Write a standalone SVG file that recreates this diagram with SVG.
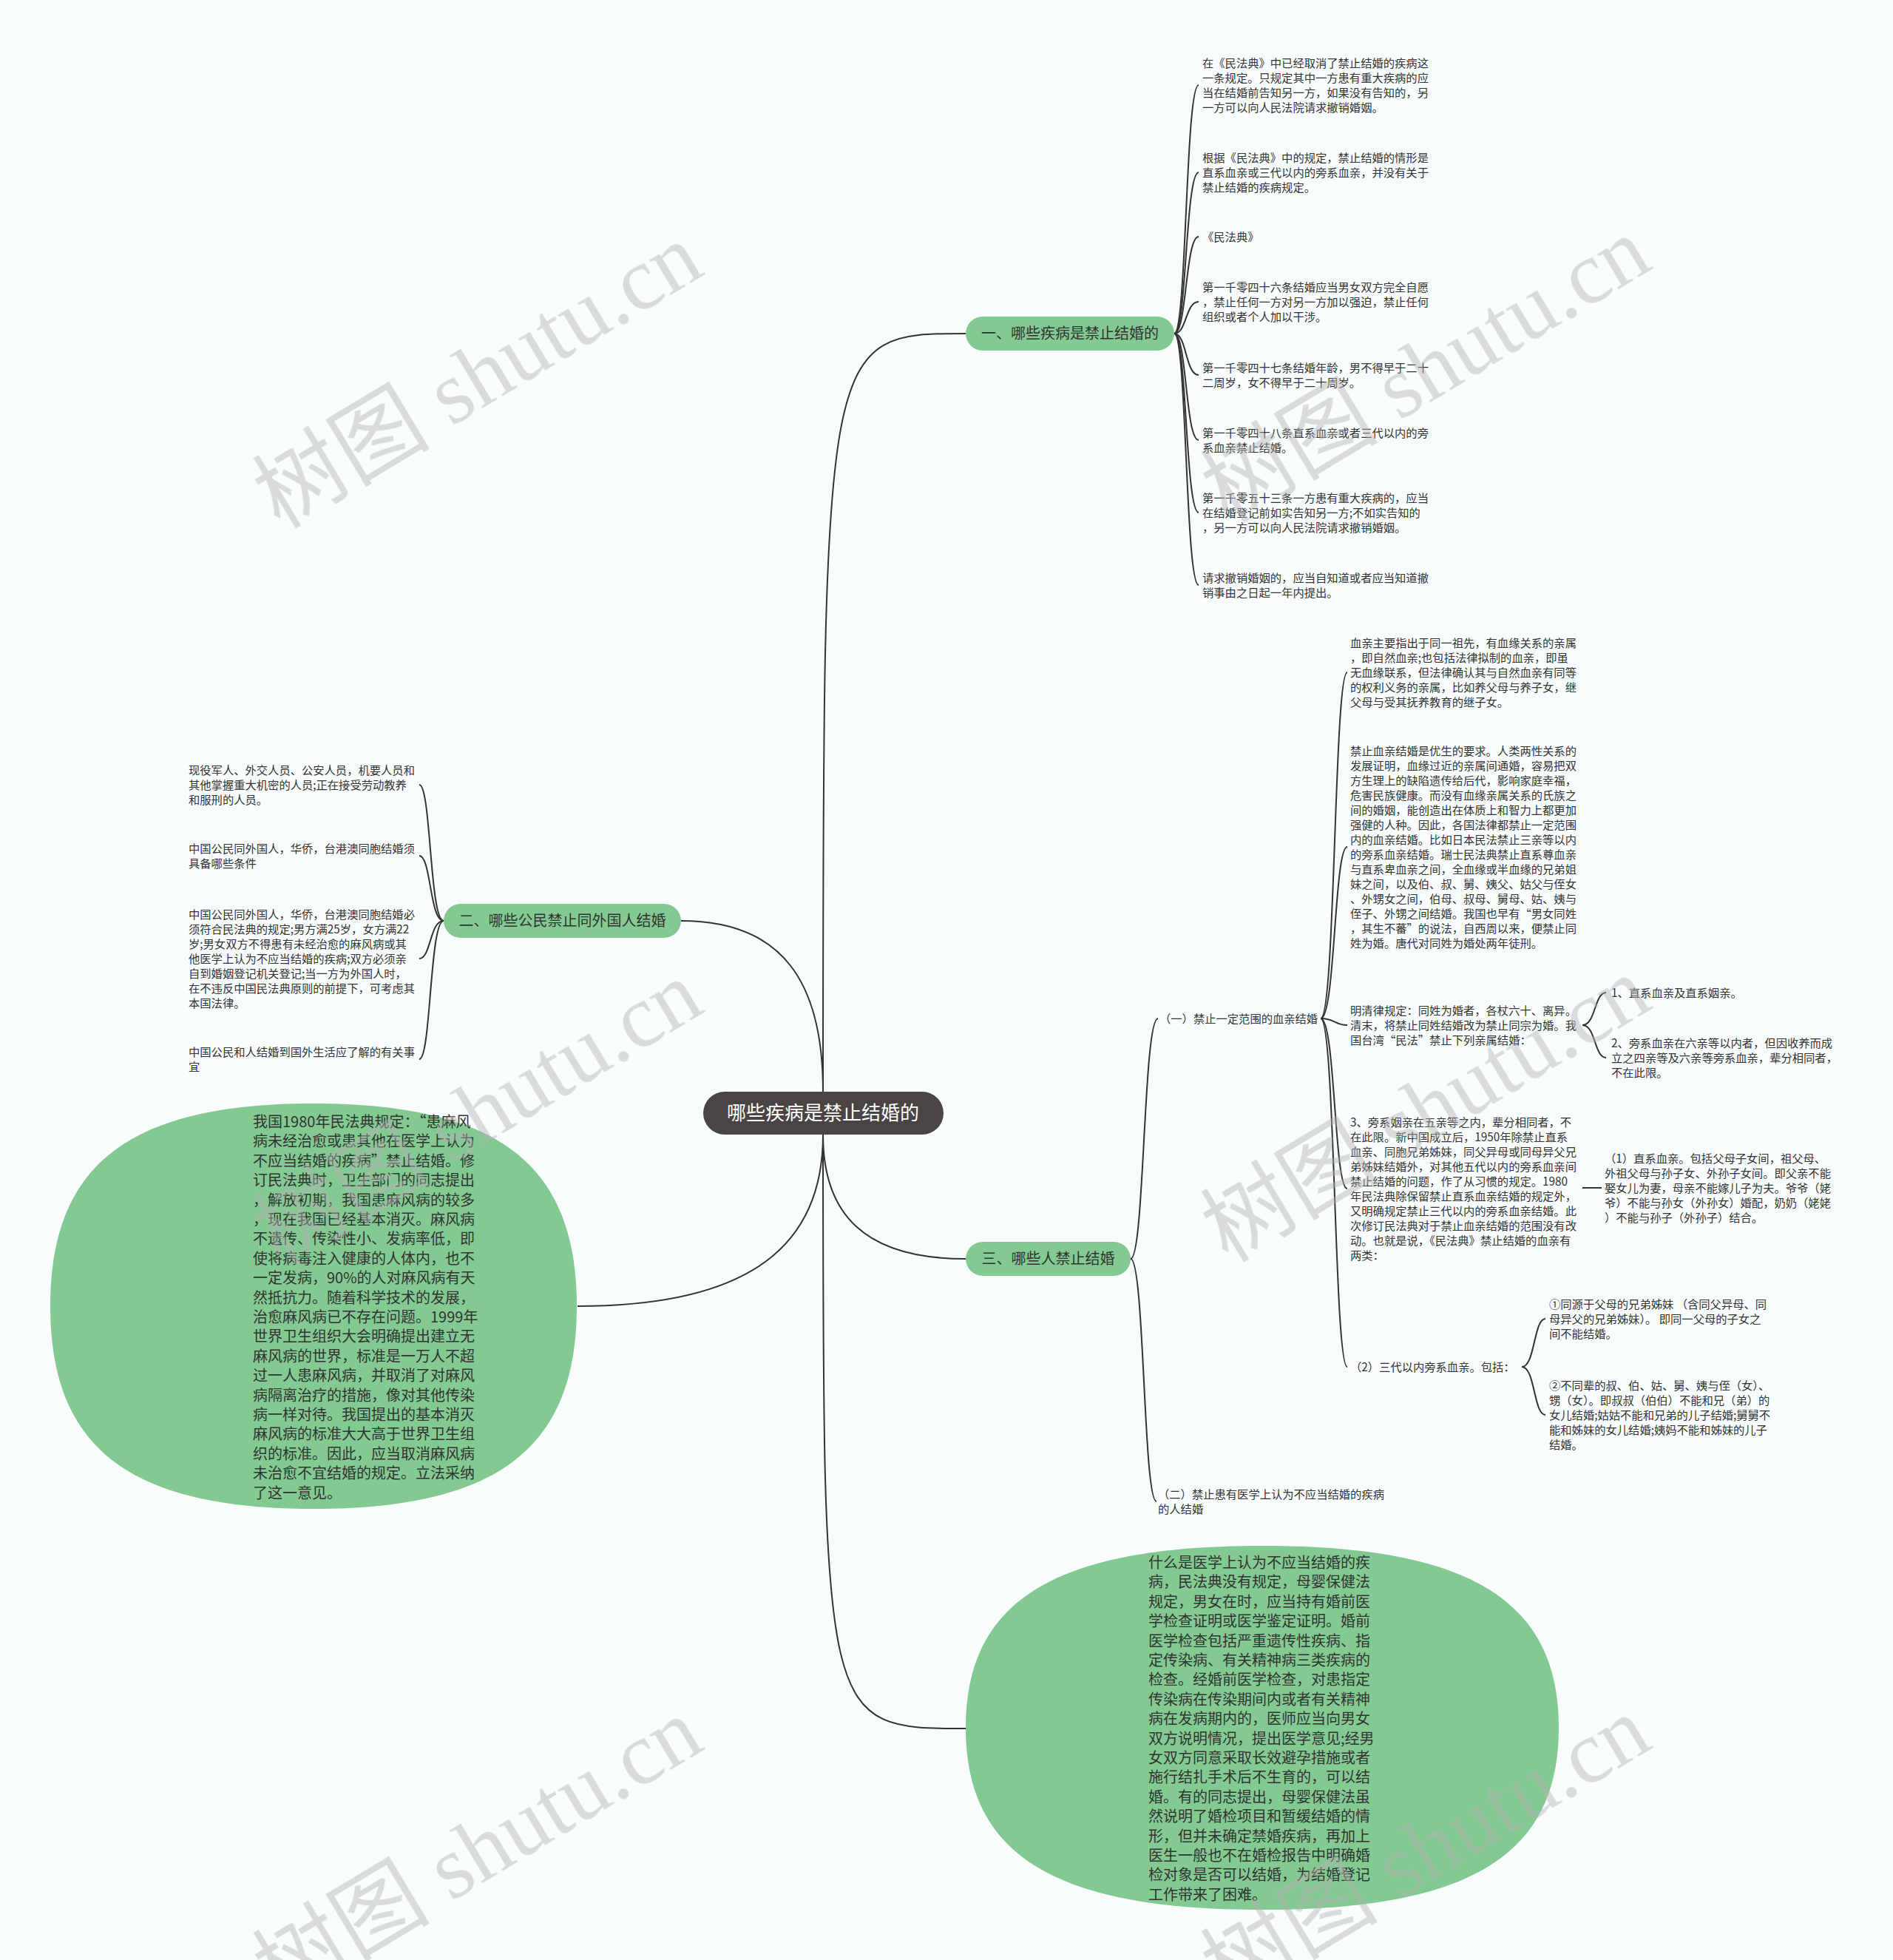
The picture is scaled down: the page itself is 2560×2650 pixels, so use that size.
<svg xmlns="http://www.w3.org/2000/svg" width="2560" height="2650" viewBox="0 0 2560 2650">
<style>
text{font-family:"Noto Sans CJK SC","Liberation Sans",sans-serif;fill:#333}
.l{font-size:15.3px}
.e{font-size:20px}
.p{font-size:20px;text-anchor:middle}
.c{font-size:26px;text-anchor:middle;fill:#fff}
.ln{fill:none;stroke:#333;stroke-width:2}
.pill{fill:#82ca91}
.wm{font-family:"Liberation Serif","Noto Sans CJK SC",serif;font-size:120px;fill:#b4b4b4;text-anchor:middle;dominant-baseline:central}
</style>
<rect x="0" y="0" width="2560" height="2650" fill="#f8fcfd"/>
<g id="connectors">
<path class="ln" d="M1113,1476 C1113,451 1113,451 1306,451"/>
<path class="ln" d="M1113,1476 C1113,1330 1060,1245 921,1245"/>
<path class="ln" d="M1113,1534 C1113,1640 1167,1702 1306,1702"/>
<path class="ln" d="M1113,1534 C1113,1680 1020,1766 781,1766"/>
<path class="ln" d="M1113,1534 C1113,2337 1113,2337 1306,2337"/>
<path class="ln" d="M1588,451 C1605,451 1603,115 1621,115"/>
<path class="ln" d="M1588,451 C1605,451 1603,233 1621,233"/>
<path class="ln" d="M1588,451 C1605,451 1603,320 1621,320"/>
<path class="ln" d="M1588,451 C1605,451 1603,408 1621,408"/>
<path class="ln" d="M1588,451 C1605,451 1603,507 1621,507"/>
<path class="ln" d="M1588,451 C1605,451 1603,595 1621,595"/>
<path class="ln" d="M1588,451 C1605,451 1603,693 1621,693"/>
<path class="ln" d="M1588,451 C1605,451 1603,791 1621,791"/>
<path class="ln" d="M600,1245 C581,1245 583,1061 567,1061"/>
<path class="ln" d="M600,1245 C581,1245 583,1157 567,1157"/>
<path class="ln" d="M600,1245 C581,1245 583,1296 567,1296"/>
<path class="ln" d="M600,1245 C581,1245 583,1432 567,1432"/>
<path class="ln" d="M1529,1702 C1548,1702 1546,1377 1566,1377"/>
<path class="ln" d="M1529,1702 C1548,1702 1546,2030 1564,2030"/>
<path class="ln" d="M1786,1377 C1806,1377 1804,909 1822,909"/>
<path class="ln" d="M1786,1377 C1806,1377 1804,1145 1822,1145"/>
<path class="ln" d="M1786,1377 C1806,1377 1804,1386 1822,1386"/>
<path class="ln" d="M1786,1377 C1806,1377 1804,1607 1822,1607"/>
<path class="ln" d="M1786,1377 C1806,1377 1804,1848 1822,1848"/>
<path class="ln" d="M2140,1386 C2158,1386 2156,1342 2172,1342"/>
<path class="ln" d="M2140,1386 C2158,1386 2156,1430 2172,1430"/>
<path class="ln" d="M2140,1606 L2166,1606"/>
<path class="ln" d="M2058,1848 C2076,1848 2074,1783 2090,1783"/>
<path class="ln" d="M2058,1848 C2076,1848 2074,1913 2090,1913"/>
</g>
<g id="n-center">
<rect x="951" y="1476" width="325" height="58" rx="29" fill="#4a4444"/>
<text class="c" x="1113" y="1514">哪些疾病是禁止结婚的</text>
</g>
<g id="n-b1">
<rect class="pill" x="1306" y="428" width="282" height="46" rx="23"/>
<text class="p" x="1447" y="458">一、哪些疾病是禁止结婚的</text>
</g>
<g id="n-b2">
<rect class="pill" x="600" y="1222" width="321" height="46" rx="23"/>
<text class="p" x="760.5" y="1252">二、哪些公民禁止同外国人结婚</text>
</g>
<g id="n-b3">
<rect class="pill" x="1306" y="1679" width="223" height="46" rx="23"/>
<text class="p" x="1417.5" y="1709">三、哪些人禁止结婚</text>
</g>
<g id="n-e1">
<path class="pill" d="M780,1766 C780,1957.8 673.2,2040 424,2040 C174.8,2040 68,1957.8 68,1766 C68,1574.2 174.8,1492 424,1492 C673.2,1492 780,1574.2 780,1766 Z"/>
<text class="e" x="342" y="1524"><tspan x="342">我国1980年民法典规定：“患麻风</tspan><tspan x="342" dy="26.4">病未经治愈或患其他在医学上认为</tspan><tspan x="342" dy="26.4">不应当结婚的疾病”禁止结婚。修</tspan><tspan x="342" dy="26.4">订民法典时，卫生部门的同志提出</tspan><tspan x="342" dy="26.4">，解放初期，我国患麻风病的较多</tspan><tspan x="342" dy="26.4">，现在我国已经基本消灭。麻风病</tspan><tspan x="342" dy="26.4">不遗传、传染性小、发病率低，即</tspan><tspan x="342" dy="26.4">使将病毒注入健康的人体内，也不</tspan><tspan x="342" dy="26.4">一定发病，90%的人对麻风病有天</tspan><tspan x="342" dy="26.4">然抵抗力。随着科学技术的发展，</tspan><tspan x="342" dy="26.4">治愈麻风病已不存在问题。1999年</tspan><tspan x="342" dy="26.4">世界卫生组织大会明确提出建立无</tspan><tspan x="342" dy="26.4">麻风病的世界，标准是一万人不超</tspan><tspan x="342" dy="26.4">过一人患麻风病，并取消了对麻风</tspan><tspan x="342" dy="26.4">病隔离治疗的措施，像对其他传染</tspan><tspan x="342" dy="26.4">病一样对待。我国提出的基本消灭</tspan><tspan x="342" dy="26.4">麻风病的标准大大高于世界卫生组</tspan><tspan x="342" dy="26.4">织的标准。因此，应当取消麻风病</tspan><tspan x="342" dy="26.4">未治愈不宜结婚的规定。立法采纳</tspan><tspan x="342" dy="26.4">了这一意见。</tspan></text>
</g>
<g id="n-e2">
<path class="pill" d="M2108,2336 C2108,2508.2 1987.7,2582 1707,2582 C1426.3,2582 1306,2508.2 1306,2336 C1306,2163.8 1426.3,2090 1707,2090 C1987.7,2090 2108,2163.8 2108,2336 Z"/>
<text class="e" x="1553" y="2120"><tspan x="1553">什么是医学上认为不应当结婚的疾</tspan><tspan x="1553" dy="26.4">病，民法典没有规定，母婴保健法</tspan><tspan x="1553" dy="26.4">规定，男女在时，应当持有婚前医</tspan><tspan x="1553" dy="26.4">学检查证明或医学鉴定证明。婚前</tspan><tspan x="1553" dy="26.4">医学检查包括严重遗传性疾病、指</tspan><tspan x="1553" dy="26.4">定传染病、有关精神病三类疾病的</tspan><tspan x="1553" dy="26.4">检查。经婚前医学检查，对患指定</tspan><tspan x="1553" dy="26.4">传染病在传染期间内或者有关精神</tspan><tspan x="1553" dy="26.4">病在发病期内的，医师应当向男女</tspan><tspan x="1553" dy="26.4">双方说明情况，提出医学意见;经男</tspan><tspan x="1553" dy="26.4">女双方同意采取长效避孕措施或者</tspan><tspan x="1553" dy="26.4">施行结扎手术后不生育的，可以结</tspan><tspan x="1553" dy="26.4">婚。有的同志提出，母婴保健法虽</tspan><tspan x="1553" dy="26.4">然说明了婚检项目和暂缓结婚的情</tspan><tspan x="1553" dy="26.4">形，但并未确定禁婚疾病，再加上</tspan><tspan x="1553" dy="26.4">医生一般也不在婚检报告中明确婚</tspan><tspan x="1553" dy="26.4">检对象是否可以结婚，为结婚登记</tspan><tspan x="1553" dy="26.4">工作带来了困难。</tspan></text>
</g>
<g id="s1-leaves">
<text class="l" id="s1-1" y="90.5"><tspan x="1626">在《民法典》中已经取消了禁止结婚的疾病这</tspan><tspan x="1626" dy="20">一条规定。只规定其中一方患有重大疾病的应</tspan><tspan x="1626" dy="20">当在结婚前告知另一方，如果没有告知的，另</tspan><tspan x="1626" dy="20">一方可以向人民法院请求撤销婚姻。</tspan></text>
<text class="l" id="s1-2" y="218.5"><tspan x="1626">根据《民法典》中的规定，禁止结婚的情形是</tspan><tspan x="1626" dy="20">直系血亲或三代以内的旁系血亲，并没有关于</tspan><tspan x="1626" dy="20">禁止结婚的疾病规定。</tspan></text>
<text class="l" id="s1-3" x="1626" y="325.5">《民法典》</text>
<text class="l" id="s1-4" y="393.5"><tspan x="1626">第一千零四十六条结婚应当男女双方完全自愿</tspan><tspan x="1626" dy="20">，禁止任何一方对另一方加以强迫，禁止任何</tspan><tspan x="1626" dy="20">组织或者个人加以干涉。</tspan></text>
<text class="l" id="s1-5" y="502.5"><tspan x="1626">第一千零四十七条结婚年龄，男不得早于二十</tspan><tspan x="1626" dy="20">二周岁，女不得早于二十周岁。</tspan></text>
<text class="l" id="s1-6" y="590.5"><tspan x="1626">第一千零四十八条直系血亲或者三代以内的旁</tspan><tspan x="1626" dy="20">系血亲禁止结婚。</tspan></text>
<text class="l" id="s1-7" y="678.5"><tspan x="1626">第一千零五十三条一方患有重大疾病的，应当</tspan><tspan x="1626" dy="20">在结婚登记前如实告知另一方;不如实告知的</tspan><tspan x="1626" dy="20">，另一方可以向人民法院请求撤销婚姻。</tspan></text>
<text class="l" id="s1-8" y="786.5"><tspan x="1626">请求撤销婚姻的，应当自知道或者应当知道撤</tspan><tspan x="1626" dy="20">销事由之日起一年内提出。</tspan></text>
</g>
<g id="s2-leaves">
<text class="l" id="s2-1" y="1046.5"><tspan x="255">现役军人、外交人员、公安人员，机要人员和</tspan><tspan x="255" dy="20">其他掌握重大机密的人员;正在接受劳动教养</tspan><tspan x="255" dy="20">和服刑的人员。</tspan></text>
<text class="l" id="s2-2" y="1152.5"><tspan x="255">中国公民同外国人，华侨，台港澳同胞结婚须</tspan><tspan x="255" dy="20">具备哪些条件</tspan></text>
<text class="l" id="s2-3" y="1241.5"><tspan x="255">中国公民同外国人，华侨，台港澳同胞结婚必</tspan><tspan x="255" dy="20">须符合民法典的规定;男方满25岁，女方满22</tspan><tspan x="255" dy="20">岁;男女双方不得患有未经治愈的麻风病或其</tspan><tspan x="255" dy="20">他医学上认为不应当结婚的疾病;双方必须亲</tspan><tspan x="255" dy="20">自到婚姻登记机关登记;当一方为外国人时，</tspan><tspan x="255" dy="20">在不违反中国民法典原则的前提下，可考虑其</tspan><tspan x="255" dy="20">本国法律。</tspan></text>
<text class="l" id="s2-4" y="1427.5"><tspan x="255">中国公民和人结婚到国外生活应了解的有关事</tspan><tspan x="255" dy="20">宜</tspan></text>
</g>
<g id="s3-leaves">
<text class="l" id="s3-sub1" x="1568" y="1382.5">（一）禁止一定范围的血亲结婚</text>
<text class="l" id="s3-sub2" y="2025.5"><tspan x="1566">（二）禁止患有医学上认为不应当结婚的疾病</tspan><tspan x="1566" dy="20">的人结婚</tspan></text>
<text class="l" id="s3-a" y="874.5"><tspan x="1826">血亲主要指出于同一祖先，有血缘关系的亲属</tspan><tspan x="1826" dy="20">，即自然血亲;也包括法律拟制的血亲，即虽</tspan><tspan x="1826" dy="20">无血缘联系，但法律确认其与自然血亲有同等</tspan><tspan x="1826" dy="20">的权利义务的亲属，比如养父母与养子女，继</tspan><tspan x="1826" dy="20">父母与受其抚养教育的继子女。</tspan></text>
<text class="l" id="s3-b" y="1020.5"><tspan x="1826">禁止血亲结婚是优生的要求。人类两性关系的</tspan><tspan x="1826" dy="20">发展证明，血缘过近的亲属间通婚，容易把双</tspan><tspan x="1826" dy="20">方生理上的缺陷遗传给后代，影响家庭幸福，</tspan><tspan x="1826" dy="20">危害民族健康。而没有血缘亲属关系的氏族之</tspan><tspan x="1826" dy="20">间的婚姻，能创造出在体质上和智力上都更加</tspan><tspan x="1826" dy="20">强健的人种。因此，各国法律都禁止一定范围</tspan><tspan x="1826" dy="20">内的血亲结婚。比如日本民法禁止三亲等以内</tspan><tspan x="1826" dy="20">的旁系血亲结婚。瑞士民法典禁止直系尊血亲</tspan><tspan x="1826" dy="20">与直系卑血亲之间，全血缘或半血缘的兄弟姐</tspan><tspan x="1826" dy="20">妹之间，以及伯、叔、舅、姨父、姑父与侄女</tspan><tspan x="1826" dy="20">、外甥女之间，伯母、叔母、舅母、姑、姨与</tspan><tspan x="1826" dy="20">侄子、外甥之间结婚。我国也早有“男女同姓</tspan><tspan x="1826" dy="20">，其生不蕃”的说法，自西周以来，便禁止同</tspan><tspan x="1826" dy="20">姓为婚。唐代对同姓为婚处两年徒刑。</tspan></text>
<text class="l" id="s3-c" y="1371.5"><tspan x="1826">明清律规定：同姓为婚者，各杖六十、离异。</tspan><tspan x="1826" dy="20">清末，将禁止同姓结婚改为禁止同宗为婚。我</tspan><tspan x="1826" dy="20">国台湾“民法”禁止下列亲属结婚：</tspan></text>
<text class="l" id="s3-d" y="1523"><tspan x="1826">3、旁系姻亲在五亲等之内，辈分相同者，不</tspan><tspan x="1826" dy="20">在此限。新中国成立后，1950年除禁止直系</tspan><tspan x="1826" dy="20">血亲、同胞兄弟姊妹，同父异母或同母异父兄</tspan><tspan x="1826" dy="20">弟姊妹结婚外，对其他五代以内的旁系血亲间</tspan><tspan x="1826" dy="20">禁止结婚的问题，作了从习惯的规定。1980</tspan><tspan x="1826" dy="20">年民法典除保留禁止直系血亲结婚的规定外，</tspan><tspan x="1826" dy="20">又明确规定禁止三代以内的旁系血亲结婚。此</tspan><tspan x="1826" dy="20">次修订民法典对于禁止血亲结婚的范围没有改</tspan><tspan x="1826" dy="20">动。也就是说，《民法典》禁止结婚的血亲有</tspan><tspan x="1826" dy="20">两类：</tspan></text>
<text class="l" id="s3-e" x="1826" y="1853.5">（2）三代以内旁系血亲。包括：</text>
<text class="l" id="s3-c1" x="2179" y="1347.5">1、直系血亲及直系姻亲。</text>
<text class="l" id="s3-c2" y="1415.5"><tspan x="2179">2、旁系血亲在六亲等以内者，但因收养而成</tspan><tspan x="2179" dy="20">立之四亲等及六亲等旁系血亲，辈分相同者，</tspan><tspan x="2179" dy="20">不在此限。</tspan></text>
<text class="l" id="s3-d1" y="1571.5"><tspan x="2170">（1）直系血亲。包括父母子女间，祖父母、</tspan><tspan x="2170" dy="20">外祖父母与孙子女、外孙子女间。即父亲不能</tspan><tspan x="2170" dy="20">娶女儿为妻，母亲不能嫁儿子为夫。爷爷（姥</tspan><tspan x="2170" dy="20">爷）不能与孙女（外孙女）婚配，奶奶（姥姥</tspan><tspan x="2170" dy="20">）不能与孙子（外孙子）结合。</tspan></text>
<text class="l" id="s3-e1" y="1768.5"><tspan x="2095">①同源于父母的兄弟姊妹 （含同父异母、同</tspan><tspan x="2095" dy="20">母异父的兄弟姊妹）。 即同一父母的子女之</tspan><tspan x="2095" dy="20">间不能结婚。</tspan></text>
<text class="l" id="s3-e2" y="1878.5"><tspan x="2095">②不同辈的叔、伯、姑、舅、姨与侄（女）、</tspan><tspan x="2095" dy="20">甥（女）。即叔叔（伯伯）不能和兄（弟）的</tspan><tspan x="2095" dy="20">女儿结婚;姑姑不能和兄弟的儿子结婚;舅舅不</tspan><tspan x="2095" dy="20">能和姊妹的女儿结婚;姨妈不能和姊妹的儿子</tspan><tspan x="2095" dy="20">结婚。</tspan></text>
</g>
<g id="watermarks" opacity="0.45">
<text class="wm" transform="translate(646,508) rotate(-31)">树图 shutu.cn</text>
<text class="wm" transform="translate(1928,500) rotate(-31)">树图 shutu.cn</text>
<text class="wm" transform="translate(646,1505) rotate(-31)">树图 shutu.cn</text>
<text class="wm" transform="translate(1928,1500) rotate(-31)">树图 shutu.cn</text>
<text class="wm" transform="translate(646,2502) rotate(-31)">树图 shutu.cn</text>
<text class="wm" transform="translate(1928,2500) rotate(-31)">树图 shutu.cn</text>
</g>
</svg>
